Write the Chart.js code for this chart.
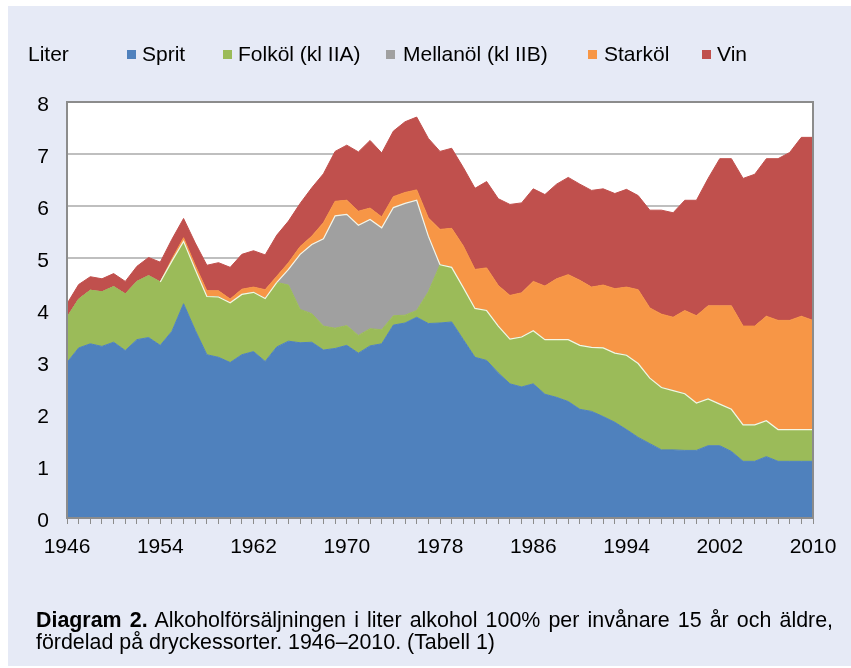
<!DOCTYPE html>
<html>
<head>
<meta charset="utf-8">
<script src="https://cdn.jsdelivr.net/npm/chart.js@4.4.1/dist/chart.umd.min.js"></script>
<style>
  html, body { margin: 0; padding: 0; background: #ffffff; }
  body { width: 851px; height: 668px; position: relative; overflow: hidden;
         font-family: "Liberation Sans", Arial, sans-serif; color: #000; }
  #panel { position: absolute; left: 8px; top: 6px; width: 843px; height: 660px; background: #E6EAF6; }
  #chart { position: absolute; left: 0; top: 0; }
  .t { position: absolute; font-size: 21px; line-height: 24px; white-space: pre; }
  .sq { position: absolute; width: 9px; height: 9px; top: 50px; }
  #cap { position: absolute; left: 36px; top: 609px; width: 797px; font-size: 21.4px; line-height: 22px; }
  #cap1 { text-align: justify; text-align-last: justify; white-space: nowrap; }
</style>
</head>
<body>
<div id="panel"></div>
<canvas id="chart" width="851" height="668"></canvas>
<div class="t" style="left:28px; top:42px;">Liter</div>
<div id="legend"></div>
<div id="cap">
  <div id="cap1"><b>Diagram 2.</b> Alkoholförsäljningen i liter alkohol 100% per invånare 15 år och äldre,</div>
  <div>fördelad på dryckessorter. 1946–2010. (Tabell 1)</div>
</div>
<script>
const years = [];
for (let y = 1946; y <= 2010; y++) years.push(String(y));

const seriesNames = ["Sprit", "Folköl (kl IIA)", "Mellanöl (kl IIB)", "Starköl", "Vin"];
const seriesColors = ["#4F81BD", "#9BBB59", "#A0A0A0", "#F79646", "#C0504D"];

const sprit = [2.99,3.27,3.35,3.30,3.38,3.22,3.43,3.47,3.32,3.59,4.12,3.61,3.14,3.09,2.99,3.14,3.20,3.01,3.29,3.40,
  3.37,3.38,3.23,3.26,3.32,3.17,3.31,3.35,3.71,3.75,3.86,3.74,3.75,3.77,3.43,3.09,3.03,2.79,2.58,2.52,
  2.58,2.38,2.32,2.24,2.09,2.05,1.95,1.84,1.70,1.55,1.43,1.31,1.31,1.30,1.30,1.39,1.39,1.28,1.09,1.09,
  1.18,1.09,1.09,1.09,1.09];
const folkol = [0.87,0.94,1.03,1.05,1.07,1.09,1.12,1.19,1.22,1.35,1.20,1.17,1.12,1.16,1.15,1.16,1.14,1.21,1.24,1.08,
  0.64,0.55,0.46,0.39,0.38,0.34,0.33,0.27,0.18,0.15,0.13,0.61,1.12,1.05,1.00,0.94,0.96,0.90,0.86,0.96,
  1.02,1.05,1.11,1.19,1.23,1.23,1.32,1.33,1.43,1.42,1.26,1.20,1.14,1.09,0.91,0.90,0.80,0.81,0.70,0.70,
  0.69,0.61,0.61,0.61,0.61];
const mellanol = [0,0,0,0,0,0,0,0,0,0,0,0,0,0,0,0,0,0,0,0.30,
  1.06,1.33,1.68,2.16,2.14,2.12,2.10,1.96,2.08,2.15,2.12,1.07,0,0,0,0,0,0,0,0,
  0,0,0,0,0,0,0,0,0,0,0,0,0,0,0,0,0,0,0,0,
  0,0,0,0,0];
const starkol = [0,0,0,0,0,0,0,0,0,0.04,0.07,0.08,0.11,0.12,0.07,0.10,0.10,0.17,0.12,0.13,
  0.15,0.16,0.31,0.28,0.27,0.27,0.22,0.21,0.21,0.21,0.20,0.35,0.68,0.75,0.80,0.75,0.82,0.78,0.84,0.85,
  0.95,1.03,1.17,1.25,1.25,1.16,1.21,1.24,1.31,1.42,1.35,1.41,1.41,1.60,1.68,1.79,1.89,1.99,1.90,1.90,
  2.01,2.10,2.10,2.18,2.10];
const vin = [0.26,0.28,0.26,0.25,0.25,0.24,0.29,0.35,0.38,0.38,0.37,0.43,0.49,0.54,0.61,0.67,0.70,0.67,0.79,0.80,
  0.83,0.93,0.94,0.96,1.06,1.14,1.30,1.23,1.26,1.36,1.40,1.53,1.50,1.54,1.51,1.56,1.66,1.67,1.75,1.73,
  1.78,1.76,1.82,1.87,1.85,1.86,1.85,1.83,1.88,1.81,1.88,2.00,2.01,2.12,2.22,2.45,2.83,2.83,2.84,2.92,
  3.03,3.11,3.23,3.44,3.52];
const yTicks = [0,1,2,3,4,5,6,7,8];
const xLabelEvery = 8;

// legend (HTML)
const legendPos = [[127,142],[223,238],[386,403],[588,604],[702,717]];
const lg = document.getElementById('legend');
seriesNames.forEach((n, i) => {
  const s = document.createElement('div'); s.className = 'sq';
  s.style.left = legendPos[i][0] + 'px'; s.style.background = seriesColors[i];
  lg.appendChild(s);
  const t = document.createElement('div'); t.className = 't';
  t.style.left = legendPos[i][1] + 'px'; t.style.top = '42px'; t.textContent = n;
  lg.appendChild(t);
});

const LIGHT = 'rgba(250,250,235,0.95)';
const FONT = '"Liberation Sans", Arial, sans-serif';

// light separator along the lower edge of the Starköl band (top of the layer beneath it)
function strokeEdge(c, pts, test) {
  c.beginPath();
  let open = false;
  for (let i = 0; i < pts.length - 1; i++) {
    if (test(i, i + 1)) {
      if (!open) { c.moveTo(pts[i].x, pts[i].y); open = true; }
      c.lineTo(pts[i + 1].x, pts[i + 1].y);
    } else open = false;
  }
  c.stroke();
}

const bgPlugin = {
  id: 'bg',
  beforeDraw(chart) {
    const a = chart.chartArea, c = chart.ctx;
    c.save(); c.fillStyle = '#ffffff';
    c.fillRect(a.left, a.top, a.right - a.left, a.bottom - a.top);
    c.restore();
  },
  afterDatasetsDraw(chart) {
    const a = chart.chartArea, c = chart.ctx;
    c.save();
    c.strokeStyle = LIGHT; c.lineWidth = 1.2; c.lineJoin = 'miter';
    const g = chart.getDatasetMeta(1).data, m = chart.getDatasetMeta(2).data;
    strokeEdge(c, g, (p, q) => mellanol[p] === 0 && mellanol[q] === 0 && (starkol[p] > 0 || starkol[q] > 0));
    strokeEdge(c, m, (p, q) => mellanol[p] > 0 || mellanol[q] > 0);
    c.strokeStyle = '#8C8C8C'; c.lineWidth = 2;
    c.strokeRect(a.left, a.top, a.right - a.left, a.bottom - a.top);
    c.restore();
  }
};

function ds(idx, data, fill) {
  return {
    label: seriesNames[idx], data: data,
    backgroundColor: seriesColors[idx], borderColor: seriesColors[idx],
    borderWidth: 1, pointRadius: 0, pointHoverRadius: 0, tension: 0, fill: fill
  };
}

new Chart(document.getElementById('chart'), {
  type: 'line',
  data: {
    labels: years,
    datasets: [
      ds(0, sprit, 'origin'),
      ds(1, folkol, '-1'),
      ds(2, mellanol, '-1'),
      ds(3, starkol, '-1'),
      ds(4, vin, '-1')
    ]
  },
  plugins: [bgPlugin],
  options: {
    responsive: false, animation: false, devicePixelRatio: 1,
    layout: { padding: { left: 0, top: 102, right: 38, bottom: 110 } },
    plugins: { legend: { display: false }, title: { display: false }, tooltip: { enabled: false } },
    elements: { line: { borderJoinStyle: 'miter' } },
    scales: {
      x: {
        type: 'category', offset: false,
        grid: { drawOnChartArea: false, drawTicks: true, tickLength: 6, color: '#8C8C8C', lineWidth: 1 },
        border: { display: false },
        ticks: {
          autoSkip: false, maxRotation: 0, minRotation: 0, padding: 11, color: '#000',
          font: { family: FONT, size: 21 },
          callback: (v, i) => (i % xLabelEvery === 0 ? years[i] : '')
        },
        afterFit: s => { s.height = 40; }
      },
      y: {
        stacked: true, min: yTicks[0], max: yTicks[yTicks.length - 1],
        afterBuildTicks: s => { s.ticks = yTicks.map(v => ({ value: v })); },
        grid: { color: '#BFBFBF', lineWidth: 2, drawTicks: false },
        border: { display: false },
        ticks: { padding: 18, labelOffset: 3, color: '#000', font: { family: FONT, size: 21 } },
        afterFit: s => { s.width = 67; }
      }
    }
  }
});
</script>
</body>
</html>
